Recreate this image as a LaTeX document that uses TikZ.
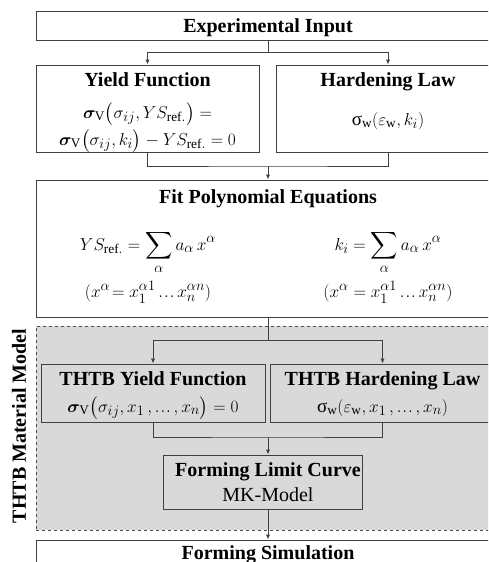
\documentclass[tikz,border=0pt]{standalone}
\usepackage{amsmath,amssymb}
\usepackage{bm}
\usepackage{fontspec}
\setmainfont{Liberation Serif}
\usetikzlibrary{arrows.meta,positioning,calc}
\newcommand{\sgw}{\text{σ}_{\mathrm{w}}}
\newcommand{\sgV}{\bm{\sigma}_{\mathrm{V}}}
\newcommand{\YSref}{YS_{\mathrm{ref.}}}
\newcommand{\dts}{\mathinner{\ldotp\mkern-2mu\ldotp\mkern-2mu\ldotp}}

\begin{document}
\begin{tikzpicture}[
  x=1pt, y=-1pt,
  font=\fontsize{20}{23}\selectfont,
  box/.style={draw=black!75, line width=1pt, fill=white, inner sep=0pt},
  gbox/.style={box, fill=black!15},
  ttl/.style={font=\fontsize{20}{23}\selectfont\bfseries, inner sep=0pt, anchor=base},
  txt/.style={font=\fontsize{19}{22}\selectfont, inner sep=0pt, anchor=base},
  ln/.style={draw=black!75, line width=1pt},
  arr/.style={ln, -{Latex[length=5pt,width=4.5pt]}}
]
\clip (0,0) rectangle (488,562);
% material model region
\node[draw=black!70, dashed, line width=1pt, fill=black!15, minimum width=464pt, minimum height=204pt] (model) at (268,428) {};
\node[ttl, rotate=90, anchor=center] (modellbl) at (19,426) {THTB Material Model};

% input
\node[box, minimum width=464pt, minimum height=29pt] (input) at (268,25.5) {};
\node[ttl] (inputt) at (268,32) {Experimental Input};

% yield function / hardening law
\node[box, minimum width=223pt, minimum height=87pt] (yf) at (147.5,108.5) {};
\node[ttl] (yft) at (147.5,86.5) {Yield Function};
\node[txt] (yfa) at (147.5,118) {$\sgV\bigl(\sigma_{ij}, \YSref\bigr) =$};
\node[txt] (yfb) at (147.5,145) {$\sgV\bigl(\sigma_{ij}, k_i\bigr) - \YSref = 0$};
\node[box, minimum width=224pt, minimum height=87pt] (hl) at (388,108.5) {};
\node[ttl] (hlt) at (388,86.5) {Hardening Law};
\node[txt] (hla) at (388,125) {$\sgw(\varepsilon_{\mathrm{w}}, k_i)$};

% fit
\node[box, minimum width=464pt, minimum height=137pt] (fit) at (268,248.5) {};
\node[ttl] (fitt) at (268,203) {Fit Polynomial Equations};
\node[txt] (fita) at (148,250) {$\displaystyle \YSref = \sum_{\alpha} a_\alpha\, x^\alpha$};
\node[txt] (fitb) at (388,250) {$\displaystyle k_i = \sum_{\alpha} a_\alpha\, x^\alpha$};
\node[txt] (fitc) at (148,297) {$(x^\alpha\!= x_1^{\alpha 1} \dts x_n^{\alpha n})$};
\node[txt] (fitd) at (388,297) {$(x^\alpha = x_1^{\alpha 1} \dts x_n^{\alpha n})$};

% THTB
\node[gbox, minimum width=224pt, minimum height=58pt] (tyf) at (153,393) {};
\node[ttl] (tyft) at (153,385.5) {THTB Yield Function};
\node[txt] (tyfa) at (153,412) {$\sgV\bigl(\sigma_{ij}, x_1\,, \dts, x_n\bigr) = 0$};
\node[gbox, minimum width=225pt, minimum height=58pt] (thl) at (382.5,393) {};
\node[ttl] (thlt) at (382.5,385.5) {THTB Hardening Law};
\node[txt] (thla) at (382.5,412) {$\sgw(\varepsilon_{\mathrm{w}}, x_1\,, \dts, x_n)$};

% forming limit curve
\node[gbox, minimum width=199pt, minimum height=54pt] (flc) at (262.5,482) {};
\node[ttl] (flct) at (268,476) {Forming Limit Curve};
\node[txt, font=\fontsize{20}{23}\selectfont] (flca) at (268,501) {MK-Model};

% simulation
\node[box, minimum width=464pt, minimum height=40pt] (sim) at (268,560) {};
\node[ttl] (simt) at (268,559) {Forming Simulation};

% connectors
\coordinate (s1) at (268,52);
\coordinate (j1) at (268,166);
\coordinate (s2) at (268,340);
\coordinate (j2) at (268,437);
\draw[ln] (input.south) -- (s1);
\draw[arr] (s1) -| (yf.north);
\draw[arr] (s1) -| (hl.north);
\draw[ln] (yf.south) |- (j1) -| (hl.south);
\draw[arr] (j1) -- (fit.north);
\draw[ln] (fit.south) -- (s2);
\draw[arr] (s2) -| (tyf.north);
\draw[arr] (s2) -| (thl.north);
\draw[ln] (tyf.south) |- (j2) -| (thl.south);
\draw[arr] (j2) -- (j2 |- flc.north);
\draw[arr] (j2 |- flc.south) -- (j2 |- sim.north);
\end{tikzpicture}
\end{document}
